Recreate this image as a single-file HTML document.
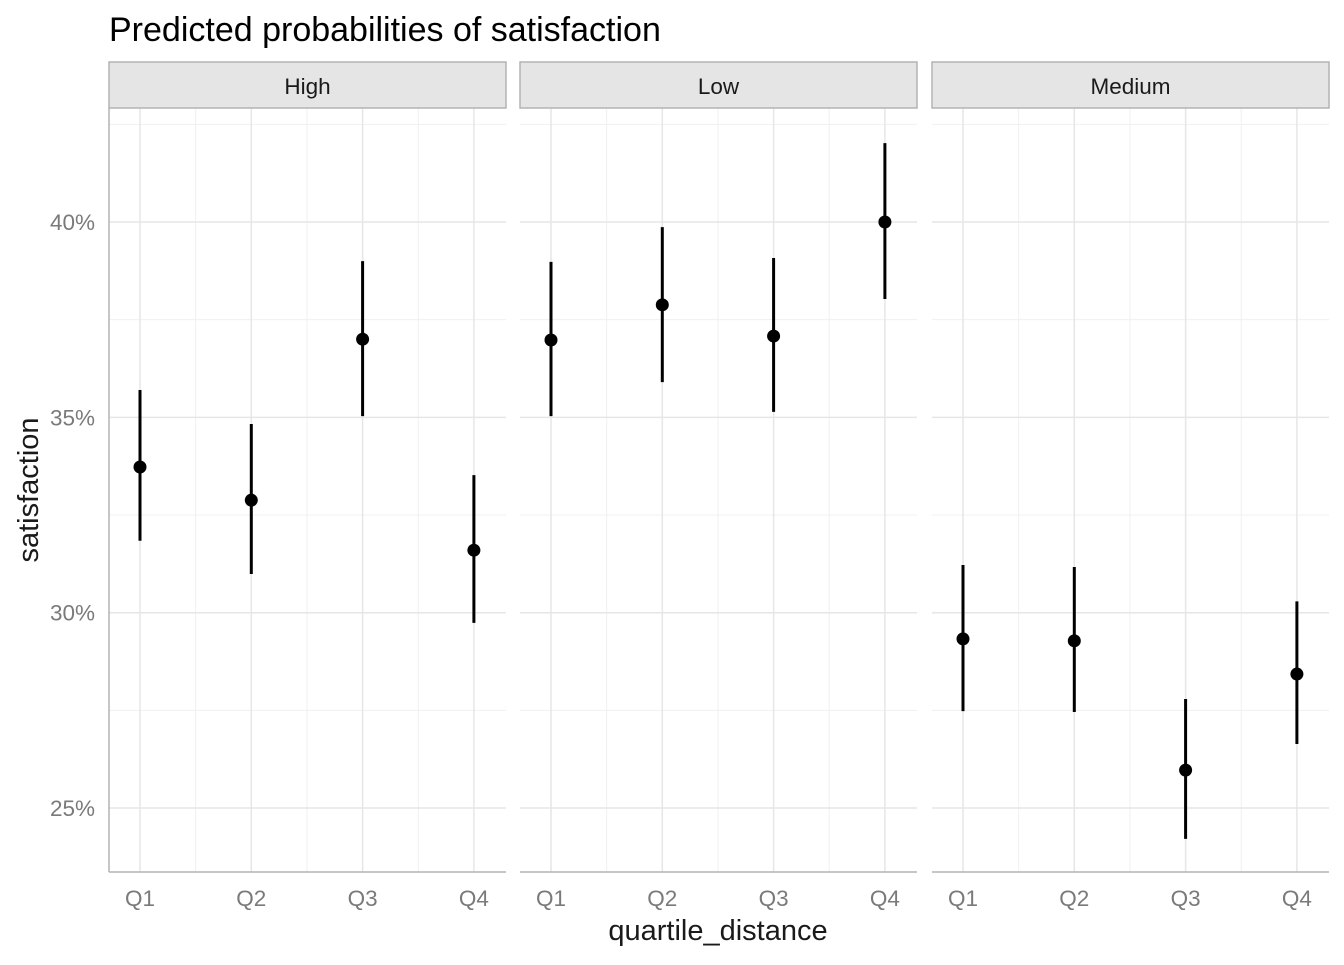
<!DOCTYPE html>
<html><head><meta charset="utf-8"><style>
body{margin:0;background:#fff;font-family:"Liberation Sans",sans-serif}
</style></head><body>
<svg id="c" width="1344" height="960" xmlns="http://www.w3.org/2000/svg"></svg>
<script>
const panels=["High","Low","Medium"];
const categories=["Q1","Q2","Q3","Q4"];
const estimates=[[33.73,32.88,37.0,31.6],[36.98,37.88,37.08,40.0],[29.33,29.28,25.97,28.43]];
const lower=[[31.84,30.99,35.03,29.74],[35.03,35.9,35.14,38.03],[27.48,27.46,24.21,26.64]];
const upper=[[35.7,34.83,39.0,33.52],[38.98,39.87,39.08,42.02],[31.22,31.17,27.79,30.29]];
const yTicks=[25,30,35,40];
const yMinor=[27.5,32.5,37.5,42.5];
const svg=document.getElementById('c');
const NS="http://www.w3.org/2000/svg";
function mk(t,a,p){const e=document.createElementNS(NS,t);for(const k in a)e.setAttribute(k,a[k]);(p||svg).appendChild(e);return e;}
const y=v=>222+(40-v)*39.07;
const pL=[109,520,932],pW=397,yTop=108,bot=872;
const x=(p,i)=>pL[p]+31+i*111.3;
let t=mk('text',{x:109,y:41,'font-size':34,fill:'#000'});t.textContent="Predicted probabilities of satisfaction";


panels.forEach((name,p)=>{
 const g=mk('g',{});
 
 
 yMinor.forEach(v=>mk('line',{x1:pL[p],x2:pL[p]+pW,y1:y(v),y2:y(v),stroke:'#f0f0f0','stroke-width':1},g));
 for(let i=0;i<3;i++){const xm=(x(p,i)+x(p,i+1))/2;mk('line',{x1:xm,x2:xm,y1:yTop,y2:bot,stroke:'#f0f0f0','stroke-width':1},g);}
 yTicks.forEach(v=>mk('line',{x1:pL[p],x2:pL[p]+pW,y1:y(v),y2:y(v),stroke:'#e6e6e6','stroke-width':1.5},g));
 categories.forEach((c,i)=>{mk('line',{x1:x(p,i),x2:x(p,i),y1:yTop,y2:bot,stroke:'#e6e6e6','stroke-width':1.5},g);
  const tl=mk('text',{x:x(p,i),y:906,'font-size':22.5,fill:'#7a7a7a','text-anchor':'middle'},g);tl.textContent=c;
  
  });
 mk('line',{x1:pL[p],x2:pL[p]+pW,y1:bot,y2:bot,stroke:'#b3b3b3','stroke-width':1.5},g);
 if(p==0) mk('line',{x1:pL[p],x2:pL[p],y1:yTop,y2:bot,stroke:'#b3b3b3','stroke-width':1.5},g);
 const s=mk('rect',{x:pL[p],y:62,width:pW,height:46,fill:'#e5e5e5',stroke:'#b3b3b3','stroke-width':1.5},g);
 
 
 const st=mk('text',{x:pL[p]+pW/2,y:94,'font-size':22.5,fill:'#1a1a1a','text-anchor':'middle'},g);st.textContent=name;
 categories.forEach((c,i)=>{
  const l=mk('line',{x1:x(p,i),x2:x(p,i),y1:y(lower[p][i]),y2:y(upper[p][i]),stroke:'#000','stroke-width':3},g);
  
  
  const d=mk('circle',{cx:x(p,i),cy:y(estimates[p][i]),r:6.5,fill:'#000'},g);
  
  
 });
});
yTicks.forEach(v=>{const tl=mk('text',{x:95,y:y(v)+8,'font-size':22.5,fill:'#7a7a7a','text-anchor':'end'});tl.textContent=v+'%';
 
 });
t=mk('text',{x:718,y:940,'font-size':29,fill:'#1a1a1a','text-anchor':'middle'});t.textContent="quartile_distance";


t=mk('text',{x:0,y:0,'font-size':29,fill:'#1a1a1a','text-anchor':'middle',transform:'translate(38,490) rotate(-90)'});t.textContent="satisfaction";


</script>
</body></html>
